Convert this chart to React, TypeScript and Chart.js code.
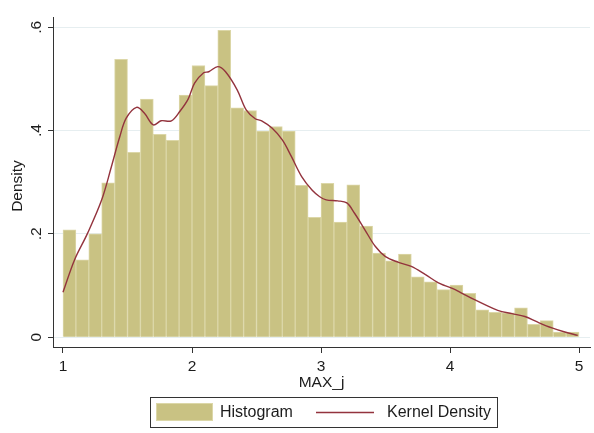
import React, { useEffect, useRef } from "react";
import { Chart, registerables } from "chart.js";

Chart.register(...registerables);

// Histogram bins: left edges of 0.1-wide bins on MAX_j, and their densities
const binStart = 1.0;
const binWidth = 0.1;
const histDensity = [
  0.208, 0.150, 0.200, 0.299, 0.538, 0.358, 0.461, 0.393, 0.381, 0.469,
  0.526, 0.487, 0.594, 0.444, 0.439, 0.399, 0.408, 0.399, 0.294, 0.232,
  0.298, 0.223, 0.295, 0.215, 0.163, 0.148, 0.161, 0.117, 0.107, 0.092,
  0.101, 0.085, 0.053, 0.048, 0.047, 0.057, 0.025, 0.032, 0.010, 0.010,
];

// Kernel density estimate, sampled along MAX_j
const kdeX = [
  1.0, 1.09, 1.19, 1.3, 1.375, 1.44, 1.49, 1.57, 1.63, 1.7, 1.76, 1.84,
  1.905, 1.97, 2.02, 2.09, 2.13, 2.2, 2.26, 2.35, 2.42, 2.49, 2.54, 2.62,
  2.7, 2.77, 2.85, 2.93, 2.99, 3.04, 3.13, 3.2, 3.26, 3.34, 3.42, 3.5,
  3.6, 3.7, 3.81, 3.91, 3.96, 4.04, 4.09, 4.19, 4.27, 4.37, 4.48, 4.58,
  4.68, 4.79, 4.89, 4.99,
];
const kdeY = [
  0.087, 0.150, 0.201, 0.266, 0.330, 0.388, 0.424, 0.445, 0.434, 0.411, 0.419, 0.419,
  0.437, 0.461, 0.492, 0.512, 0.514, 0.524, 0.514, 0.479, 0.440, 0.423, 0.419, 0.405,
  0.382, 0.350, 0.311, 0.285, 0.272, 0.266, 0.264, 0.260, 0.240, 0.208, 0.176, 0.156,
  0.145, 0.137, 0.121, 0.105, 0.100, 0.092, 0.0855, 0.0725, 0.063, 0.052, 0.0455, 0.040,
  0.029, 0.018, 0.010, 0.0035,
];

const xTicks = [1, 2, 3, 4, 5];
const yTicks = [0, 0.2, 0.4, 0.6];
const yTickLabels = ["0", ".2", ".4", ".6"];

const xTitle = "MAX_j";
const yTitle = "Density";
const legendLabels = ["Histogram", "Kernel Density"];

const BAR_FILL = "#c9c283";
const BAR_EDGE = "#dcd7a8";
const LINE_COLOR = "#93333d";
const GRID_COLOR = "#e6eef0";
const AXIS_COLOR = "#333333";
const TEXT_COLOR = "#1c1c1c";
const FONT = "Liberation Sans, Arial, sans-serif";

const textPlugin = {
  id: "stataText",
  afterDraw(chart: any) {
    const { ctx, chartArea, scales } = chart;
    const xs = scales.x;
    const ys = scales.y;
    ctx.save();
    ctx.fillStyle = TEXT_COLOR;
    ctx.font = `15.5px ${FONT}`;

    // y tick labels, rotated
    yTicks.forEach((v, i) => {
      const py = ys.getPixelForValue(v);
      ctx.save();
      ctx.translate(36.5, py);
      ctx.rotate(-Math.PI / 2);
      ctx.textAlign = "center";
      ctx.textBaseline = "middle";
      ctx.fillText(yTickLabels[i], 0, 0);
      ctx.restore();
    });

    // x tick labels
    ctx.textAlign = "center";
    ctx.textBaseline = "middle";
    xTicks.forEach((v) => {
      ctx.fillText(String(v), xs.getPixelForValue(v), chartArea.bottom + 20);
    });

    // axis titles
    ctx.fillText(xTitle, (chartArea.left + chartArea.right) / 2, chartArea.bottom + 36);
    ctx.save();
    ctx.translate(18, (chartArea.top + chartArea.bottom) / 2 + 4);
    ctx.rotate(-Math.PI / 2);
    ctx.fillText(yTitle, 0, 0);
    ctx.restore();

    // legend box
    const bx = 150, by = 397, bw = 347, bh = 30;
    ctx.strokeStyle = AXIS_COLOR;
    ctx.lineWidth = 1;
    ctx.strokeRect(bx + 0.5, by + 0.5, bw, bh);

    ctx.fillStyle = BAR_FILL;
    ctx.fillRect(bx + 6, by + 6, 57, 18);
    ctx.strokeStyle = BAR_EDGE;
    ctx.strokeRect(bx + 6.5, by + 6.5, 56, 17);

    ctx.strokeStyle = LINE_COLOR;
    ctx.lineWidth = 1.3;
    ctx.beginPath();
    ctx.moveTo(bx + 166, by + 15.5);
    ctx.lineTo(bx + 224, by + 15.5);
    ctx.stroke();

    ctx.fillStyle = TEXT_COLOR;
    ctx.font = `16px ${FONT}`;
    ctx.textAlign = "left";
    ctx.textBaseline = "middle";
    ctx.fillText(legendLabels[0], bx + 70, by + 16);
    ctx.fillText(legendLabels[1], bx + 237, by + 16);
    ctx.restore();
  },
};

export default function App() {
  const canvasRef = useRef<HTMLCanvasElement | null>(null);

  useEffect(() => {
    const canvas = canvasRef.current;
    if (!canvas) return;

    const barData = histDensity.map((d, i) => ({
      x: binStart + binWidth * (i + 0.5),
      y: d,
    }));
    const lineData = kdeX.map((x, i) => ({ x, y: kdeY[i] }));

    const chart = new Chart(canvas, {
      type: "bar",
      data: {
        datasets: [
          {
            type: "line",
            label: legendLabels[1],
            data: lineData,
            borderColor: LINE_COLOR,
            borderWidth: 1.4,
            pointRadius: 0,
            tension: 0.35,
            fill: false,
            order: 0,
          } as any,
          {
            type: "bar",
            label: legendLabels[0],
            data: barData,
            backgroundColor: BAR_FILL,
            borderColor: BAR_EDGE,
            borderWidth: 1,
            barPercentage: 1,
            categoryPercentage: 1,
            order: 1,
          } as any,
        ],
      },
      options: {
        responsive: false,
        animation: false,
        events: [],
        layout: { padding: { left: 0, top: 17, right: 4, bottom: 0 } },
        plugins: {
          legend: { display: false },
          tooltip: { enabled: false },
        },
        scales: {
          x: {
            type: "linear",
            min: 0.9225,
            max: 5.085,
            offset: false,
            afterBuildTicks: (s: any) => {
              s.ticks = xTicks.map((v) => ({ value: v }));
            },
            afterFit: (s: any) => {
              s.height = 86;
            },
            ticks: { display: false },
            grid: {
              offset: false,
              drawOnChartArea: false,
              drawTicks: true,
              tickLength: 6,
              tickColor: AXIS_COLOR,
              tickWidth: 1,
            },
            border: { display: true, color: AXIS_COLOR, width: 1 },
          },
          y: {
            type: "linear",
            min: -0.019,
            max: 0.62,
            afterBuildTicks: (s: any) => {
              s.ticks = yTicks.map((v) => ({ value: v }));
            },
            afterFit: (s: any) => {
              s.width = 53;
            },
            ticks: { display: false },
            grid: {
              color: GRID_COLOR,
              lineWidth: 1,
              drawTicks: true,
              tickLength: 5,
              tickColor: AXIS_COLOR,
              tickWidth: 1,
            },
            border: { display: true, color: AXIS_COLOR, width: 1 },
          },
        },
      },
      plugins: [textPlugin],
    });

    return () => chart.destroy();
  }, []);

  return (
    <div style={{ position: "absolute", left: 0, top: 0, width: 594, height: 433, background: "#fff" }}>
      <canvas ref={canvasRef} width={594} height={433} style={{ display: "block" }} />
    </div>
  );
}
